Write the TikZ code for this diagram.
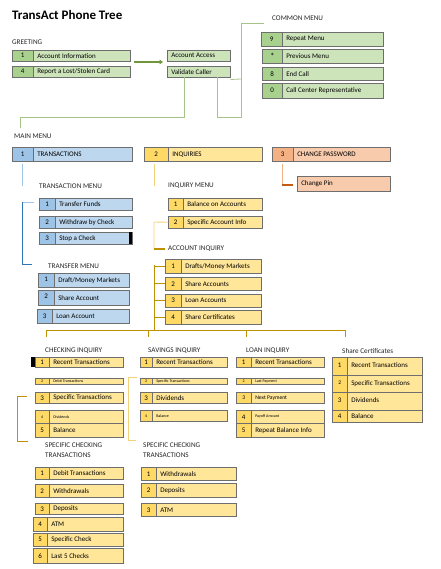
\documentclass[tikz,border=0pt]{standalone}
\usepackage{fontspec}
\setmainfont{Carlito}
\usetikzlibrary{arrows.meta}
\definecolor{gtxt}{HTML}{CDE4BA}
\definecolor{gnum}{HTML}{A9D18E}
\definecolor{btxt}{HTML}{BDD7EE}
\definecolor{bnum}{HTML}{9DC3E6}
\definecolor{ytxt}{HTML}{FFE699}
\definecolor{ynum}{HTML}{FFD966}
\definecolor{otxt}{HTML}{F8CBAD}
\definecolor{onum}{HTML}{F4B183}
\definecolor{bord}{HTML}{6E6E6E}
\definecolor{lgreen}{HTML}{A6C48A}
\definecolor{dgreen}{HTML}{70963C}
\definecolor{lblue}{HTML}{9DC3E6}
\definecolor{dblue}{HTML}{2E75B6}
\definecolor{lyel}{HTML}{F2D27A}
\definecolor{gold}{HTML}{BF9000}
\definecolor{lor}{HTML}{F4B183}
\definecolor{dor}{HTML}{C55A11}
\newcommand\fs{\fontsize{7}{8}\selectfont}
\newcommand\fm{\fontsize{5.6}{6}\selectfont}
\newcommand\ft{\fontsize{4}{4.5}\selectfont}
\newcommand\fl{\fontsize{7.2}{10}\selectfont}
\newcommand\cellrow[9]{%
 \pgfmathsetmacro\cwa{#6-#2}%
 \pgfmathsetmacro\cwb{#4-#6-8}%
 \pgfmathsetmacro\cwc{#4-#6}%
 \pgfmathsetmacro\chh{#5-#3}%
 \node[numc=#9, minimum width=\cwa pt, minimum height=\chh pt] (#1n) at (#2,#3) {#7};%
 \node[txtc=#9, minimum width=\cwc pt, minimum height=\chh pt] (#1) at (#6,#3) {\makebox[\cwb pt][l]{#8}};%
}
\newcommand\onecell[7]{%
 \pgfmathsetmacro\cwb{#4-#2-8}%
 \pgfmathsetmacro\cwc{#4-#2}%
 \pgfmathsetmacro\chh{#5-#3}%
 \node[txtc=#7, minimum width=\cwc pt, minimum height=\chh pt] (#1) at (#2,#3) {\makebox[\cwb pt][l]{#6}};%
}
\tikzset{
 numc/.style={draw=bord, fill=#1num, inner sep=0pt, anchor=north west, font=\fs, line width=0.5pt},
 txtc/.style={draw=bord, fill=#1txt, inner xsep=4pt, inner ysep=0pt, anchor=north west, font=\fs, line width=0.5pt},
 lbl/.style={anchor=west, font=\fl, inner sep=0pt, text=black!85},
 lgline/.style={draw=lgreen, line width=0.8pt},
 garrow/.style={draw=dgreen, line width=1.3pt, -{Triangle[length=3.5pt,width=4.5pt]}},
 blight/.style={draw=lblue, line width=0.9pt},
 bdark/.style={draw=dblue, line width=0.9pt},
 ylight/.style={draw=lyel, line width=0.9pt},
 goldline/.style={draw=gold, line width=0.9pt},
 olight/.style={draw=lor, line width=0.9pt},
 odark/.style={draw=dor, line width=1.6pt},
}
\begin{document}
\begin{tikzpicture}[x=1pt,y=-1pt]
\useasboundingbox (0,0) rectangle (440,569);
\fill[white] (0,0) rectangle (440,569);
% title and labels
\node[anchor=west, font=\bfseries\fontsize{13}{14}\selectfont, inner sep=0pt] (title) at (12,15) {TransAct Phone Tree};
\node[lbl] (lgreet) at (12,42) {GREETING};
\node[lbl] (lcommon) at (272,18) {COMMON MENU};
\node[lbl] (lmain) at (14,136) {MAIN MENU};
\node[lbl] (ltrans) at (39,186) {TRANSACTION MENU};
\node[lbl] (linq) at (168,186) {INQUIRY MENU};
\node[lbl] (lacct) at (168,249) {ACCOUNT INQUIRY};
\node[lbl] (ltransf) at (48,266) {TRANSFER MENU};
\node[lbl] (lcheck) at (45,351) {CHECKING INQUIRY};
\node[lbl] (lsav) at (148,351) {SAVINGS INQUIRY};
\node[lbl] (lloan) at (246,351) {LOAN INQUIRY};
\node[lbl] (lshare) at (342,351) {Share Certificates};
\node[lbl, align=left] (lspec1) at (45,450) {SPECIFIC CHECKING\\TRANSACTIONS};
\node[lbl, align=left] (lspec2) at (143,450) {SPECIFIC CHECKING\\TRANSACTIONS};
% greeting
\cellrow{g1}{12}{50}{130}{61}{33}{1}{Account Information}{g}
\cellrow{g2}{12}{66}{130}{77}{33}{4}{Report a Lost/Stolen Card}{g}
\onecell{aa}{167}{50}{230}{61}{Account Access}{g}
\onecell{vc}{167}{66}{230}{77}{Validate Caller}{g}
% common menu
\cellrow{c9}{261}{32}{383}{46}{282}{9}{Repeat Menu}{g}
\cellrow{cs}{262}{49}{383}{63}{282}{{\fontsize{9}{9}\selectfont\raisebox{-1pt}{*}}}{Previous Menu}{g}
\cellrow{c8}{262}{67}{383}{80}{282}{8}{End Call}{g}
\cellrow{c0}{262}{83}{383}{98}{282}{0}{Call Center Representative}{g}
% main menu
\cellrow{m1}{12}{147}{132}{161}{33}{1}{TRANSACTIONS}{b}
\cellrow{m2}{144}{147}{262}{161}{168}{2}{INQUIRIES}{y}
\cellrow{m3}{272}{147}{390}{161}{293}{3}{CHANGE PASSWORD}{o}
\onecell{cp}{297}{176}{390}{191}{\raisebox{-2pt}{Change Pin}}{o}
% transaction menu
\cellrow{t1}{39}{198}{132}{210}{55}{1}{Transfer Funds}{b}
\cellrow{t2}{39}{216}{132}{228}{55}{2}{Withdraw by Check}{b}
\cellrow{t3}{39}{232}{132}{244}{55}{3}{Stop a Check}{b}
\fill[black] (129,232) rectangle (132,244);
% transfer menu
\cellrow{tr1}{38}{273}{129}{287}{54}{\raisebox{3pt}{1}}{\raisebox{-3pt}{Draft/Money Markets}}{b}
\cellrow{tr2}{38}{290}{129}{305}{54}{\raisebox{3pt}{2}}{\raisebox{-3pt}{Share Account}}{b}
\cellrow{tr3}{37}{309}{129}{323}{52}{\raisebox{-2pt}{3}}{\raisebox{-3pt}{Loan Account}}{b}
% inquiry menu
\cellrow{i1}{168}{198}{262}{210}{183}{1}{Balance on Accounts}{y}
\cellrow{i2}{168}{216}{262}{228}{183}{2}{Specific Account Info}{y}
% account inquiry
\cellrow{a1}{165}{259}{261}{273}{181}{1}{Drafts/Money Markets}{y}
\cellrow{a2}{165}{277}{261}{290}{181}{2}{Share Accounts}{y}
\cellrow{a3}{165}{294}{261}{307}{181}{3}{Loan Accounts}{y}
\cellrow{a4}{165}{310}{261}{324}{181}{4}{Share Certificates}{y}
% checking inquiry
\cellrow{ck1}{35}{357}{123}{367}{49}{1}{Recent Transactions}{y}
\fill[black] (31,357) rectangle (35,367);
\cellrow{ck2}{35}{378}{123}{384}{49}{\ft 2}{\ft Debit Transactions}{y}
\cellrow{ck3}{35}{392}{123}{403}{49}{3}{Specific Transactions}{y}
\cellrow{ck4}{35}{410}{123}{423}{49}{\ft 4}{\ft Dividends}{y}
\cellrow{ck5}{35}{423}{123}{437}{49}{5}{Balance}{y}
% savings inquiry
\cellrow{sv1}{140}{357}{227}{367}{152}{1}{Recent Transactions}{y}
\cellrow{sv2}{140}{378}{227}{384}{152}{\ft 2}{\ft Specific Transactions}{y}
\cellrow{sv3}{140}{392}{227}{403}{152}{3}{Dividends}{y}
\cellrow{sv4}{140}{410}{227}{421}{152}{\ft 4}{\ft Balance}{y}
% loan inquiry
\cellrow{ln1}{236}{357}{324}{367}{251}{1}{Recent Transactions}{y}
\cellrow{ln2}{236}{378}{324}{384}{251}{\ft 2}{\ft Last Payment}{y}
\cellrow{ln3}{236}{392}{324}{403}{251}{\fm\raisebox{-1.5pt}{3}}{\fm\raisebox{-1.5pt}{Next Payment}}{y}
\cellrow{ln4}{236}{410}{324}{423}{251}{4}{\ft Payoff Amount}{y}
\cellrow{ln5}{236}{423}{324}{437}{251}{5}{Repeat Balance Info}{y}
% share certificates
\cellrow{sc1}{332}{357}{422}{375}{347}{\raisebox{3pt}{1}}{\raisebox{3pt}{Recent Transactions}}{y}
\cellrow{sc2}{332}{375}{422}{392}{347}{\raisebox{2pt}{\fm 2}}{\raisebox{2pt}{Specific Transactions}}{y}
\cellrow{sc3}{332}{392}{422}{410}{347}{\raisebox{3pt}{3}}{\raisebox{3pt}{Dividends}}{y}
\cellrow{sc4}{332}{410}{422}{422}{347}{4}{Balance}{y}
% specific checking transactions 1
\cellrow{sp1}{35}{467}{123}{479}{49}{1}{Debit Transactions}{y}
\cellrow{sp2}{35}{484}{123}{497}{49}{2}{Withdrawals}{y}
\cellrow{sp3}{35}{503}{123}{514}{49}{3}{Deposits}{y}
\cellrow{sp4}{33}{517}{123}{531}{47}{4}{ATM}{y}
\cellrow{sp5}{33}{533}{123}{546}{47}{5}{Specific Check}{y}
\cellrow{sp6}{33}{548}{123}{563}{47}{6}{Last 5 Checks}{y}
% specific checking transactions 2
\cellrow{sq1}{141}{467}{236}{480}{156}{1}{Withdrawals}{y}
\cellrow{sq2}{141}{483}{236}{497}{156}{2}{Deposits}{y}
\cellrow{sq3}{141}{503}{236}{516}{156}{3}{ATM}{y}
% ---- connectors ----
\coordinate (arS) at (134,62);
\coordinate (arE) at (163,62);
\draw[garrow] (arS) -- (arE);
\coordinate (v1) at (184,77);
\coordinate (v2) at (184,117);
\coordinate (v3) at (20,117);
\coordinate (v4) at (20,128);
\draw[lgline] (v1) -- (v2) -- (v3) -- (v4);
\coordinate (w1) at (217,77);
\coordinate (w2) at (217,117);
\coordinate (w3) at (241,117);
\coordinate (w4) at (241,23);
\coordinate (w5) at (264,23);
\coordinate (w6) at (241,79);
\draw[lgline] (w1) -- (w2) -- (w3) -- (w4) -- (w5);
\draw[lgline] (vc.south east) ++(0,2) -- (w6);
% blue
\coordinate (b1) at (22,164);
\coordinate (b2) at (22,186);
\draw[blight] (b1) -- (b2);
\coordinate (b3) at (34,202);
\coordinate (b4) at (22,202);
\coordinate (b5) at (22,264);
\coordinate (b6) at (32,264);
\draw[blight] (b3) -- (b4);
\draw[bdark] (b4) -- (b5) -- (b6);
% yellow
\coordinate (y1) at (154,164);
\coordinate (y2) at (154,186);
\draw[ylight] (y1) -- (y2);
\coordinate (y3) at (154,222);
\coordinate (y4) at (154,249);
\coordinate (y5) at (165,249);
\draw[ylight] (i2n.west) -- (y3) -- (y4);
\draw[goldline, line width=1.5pt] (y4) -- (y5);
% gold tree
\coordinate (t0) at (154,265);
\coordinate (tm) at (154,330);
\draw[goldline] (t0) -- (tm);
\foreach \n in {a1,a2,a3,a4}{\draw[goldline] (\n n.west) -- (154,0 |- \n n.west);}
\coordinate (hL) at (46,330);
\coordinate (hR) at (345,330);
\draw[goldline] (hL) -- (hR);
\foreach \x in {46,148,246,345}{\draw[goldline] (\x,330) -- (\x,337);}
% orange
\coordinate (o1) at (282,164);
\coordinate (o2) at (282,185);
\coordinate (o3) at (293,185);
\draw[olight] (o1) -- (o2);
\draw[odark] (o2) -- (o3);
% brackets
\coordinate (k1) at (27,396);
\coordinate (k2) at (17,396);
\coordinate (k3) at (17,441);
\coordinate (k4) at (28,441);
\draw[goldline] (k1) -- (k2) -- (k3) -- (k4);
\coordinate (s1) at (137,377);
\coordinate (s2) at (128,377);
\coordinate (s3) at (128,440);
\coordinate (s4) at (136,440);
\draw[ylight] (s1) -- (s2) -- (s3) -- (s4);
\end{tikzpicture}
\end{document}
